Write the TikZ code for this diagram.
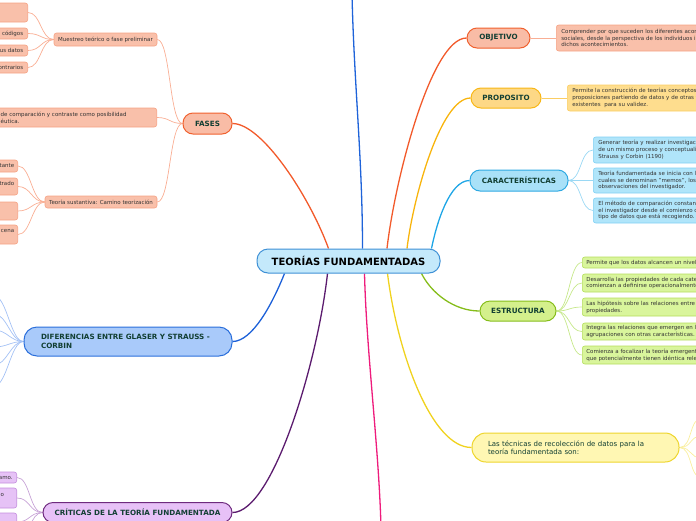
\documentclass[tikz,border=0pt]{standalone}
\usepackage{fontspec}
\setmainfont{DejaVu Sans}
\pgfdeclarelayer{background}
\pgfsetlayers{background,main}
\definecolor{tg}{HTML}{123F33}
\definecolor{kt}{HTML}{333333}
\definecolor{cenF}{HTML}{C4E9FB}
\definecolor{cenD}{HTML}{3F91D6}
\definecolor{faF}{HTML}{F9BCA6}
\definecolor{faD}{HTML}{F0612E}
\definecolor{faL}{HTML}{F25A2B}
\definecolor{faKF}{HTML}{F9C0AA}
\definecolor{faKD}{HTML}{F6A385}
\definecolor{faK}{HTML}{F9AE94}
\definecolor{prF}{HTML}{FDD886}
\definecolor{prD}{HTML}{F8B717}
\definecolor{prL}{HTML}{F8B40C}
\definecolor{prKF}{HTML}{FEDD8E}
\definecolor{prKD}{HTML}{FBCD62}
\definecolor{caF}{HTML}{A9E1F8}
\definecolor{caD}{HTML}{2FA9E2}
\definecolor{caL}{HTML}{1FA6E6}
\definecolor{caKF}{HTML}{B0E5FA}
\definecolor{caKD}{HTML}{80D0F4}
\definecolor{caK}{HTML}{9AD8F4}
\definecolor{esF}{HTML}{D4F08C}
\definecolor{esD}{HTML}{86BD1B}
\definecolor{esL}{HTML}{86BD1B}
\definecolor{esKF}{HTML}{D9F59C}
\definecolor{esKD}{HTML}{B5DE5C}
\definecolor{esK}{HTML}{C6E88A}
\definecolor{teF}{HTML}{FFF7B3}
\definecolor{teD}{HTML}{EED52C}
\definecolor{teL}{HTML}{F0D21E}
\definecolor{teK}{HTML}{F9EE9C}
\definecolor{diF}{HTML}{A9CAFA}
\definecolor{diD}{HTML}{2B6FDB}
\definecolor{diL}{HTML}{1C60D8}
\definecolor{diK}{HTML}{A3C1F5}
\definecolor{crF}{HTML}{E7C1F7}
\definecolor{crD}{HTML}{6E2A7E}
\definecolor{crL}{HTML}{5B1B6E}
\definecolor{crKF}{HTML}{E6C2F6}
\definecolor{crKD}{HTML}{C48EDE}
\definecolor{crK}{HTML}{C7A2D6}
\definecolor{pinkL}{HTML}{EE1C7C}
\definecolor{blueL}{HTML}{1E63D9}
\begin{document}
\begin{tikzpicture}[x=1pt,y=-1pt,
  every node/.style={inner sep=0pt},
  main/.style={draw, line width=1pt, font=\fontsize{7.2}{9}\selectfont\bfseries, text=tg, align=center},
  kid/.style={draw, line width=0.6pt, rounded corners=2.5pt, font=\fontsize{5.5}{6.8}\selectfont, text=kt},
  lkid/.style={kid, anchor=east, align=right},
  rkid/.style={kid, anchor=west, align=left, text width=200pt},
  link/.style={to path={.. controls +(-13,0) and +(13,0) .. (\tikztotarget)}},
  rlink/.style={to path={.. controls +(13,0) and +(-13,0) .. (\tikztotarget)}},
  mainline/.style={line width=1.3pt},
  kidline/.style={line width=0.7pt}
]
\useasboundingbox (0,0) rectangle (696,520);
\clip (0,0) rectangle (696,520);

% central
\node[draw=cenD, fill=cenF, line width=1pt, rounded corners=11pt, minimum width=183pt, minimum height=24pt, font=\fontsize{10}{12}\selectfont\bfseries] (c) at (348.5,261) {TEORÍAS FUNDAMENTADAS};

% main branches
\node[main, fill=faF, draw=faD, rounded corners=10pt, minimum width=49pt, minimum height=21pt] (fases) at (207.5,123.5) {FASES};
\node[main, fill=faF, draw=faD, rounded corners=10pt, minimum width=63pt, minimum height=20pt] (obj) at (498.5,38) {OBJETIVO};
\node[main, fill=prF, draw=prD, rounded corners=10pt, minimum width=70pt, minimum height=20pt] (prop) at (506,98) {PROPOSITO};
\node[main, fill=caF, draw=caD, rounded corners=10pt, minimum width=98pt, minimum height=21pt] (car) at (519,180.5) {CARACTERÍSTICAS};
\node[main, fill=esF, draw=esD, rounded corners=10pt, minimum width=76pt, minimum height=20pt] (est) at (518,311) {ESTRUCTURA};
\node[main, fill=teF, draw=teD, rounded corners=14pt, minimum height=29pt, text width=175pt, inner xsep=16pt, align=left, font=\fontsize{7}{8}\selectfont] (tec) at (575.5,447.5) {Las técnicas de recolección de datos para la\\teoría fundamentada son:};
\node[main, fill=diF, draw=diD, rounded corners=13pt, minimum height=29pt, text width=174pt, inner xsep=17pt, align=left] (dif) at (128,341.5) {DIFERENCIAS ENTRE GLASER Y STRAUSS -\\CORBIN};
\node[main, fill=crF, draw=crD, rounded corners=10pt, minimum width=189pt, minimum height=20pt] (cri) at (137.5,512.5) {CRÍTICAS DE LA TEORÍA FUNDAMENTADA};

% FASES children
\node[kid, fill=faKF, draw=faKD, minimum width=103pt, minimum height=13pt] (m1) at (105.5,39.5) {Muestreo teórico o fase preliminar};
\node[kid, fill=faKF, draw=faKD, anchor=east, align=left, minimum height=19pt, text width=152pt, inner xsep=4pt] (m2) at (157,117.5) {de comparación y contraste como posibilidad\\éutica.};
\node[kid, fill=faKF, draw=faKD, minimum width=112pt, minimum height=12pt] (m3) at (101,202) {Teoría sustantiva: Camino teorización};

\node[lkid, fill=faKF, draw=faKD, text width=50pt, inner xsep=4.5pt, minimum height=19pt] (a1) at (28,12.5) {};
\node[lkid, fill=faKF, draw=faKD, text width=50pt, inner xsep=4.5pt, minimum height=11pt] (a2) at (28,33.5) {e códigos};
\node[lkid, fill=faKF, draw=faKD, text width=50pt, inner xsep=4.5pt, minimum height=11pt] (a3) at (28,50.5) {us datos};
\node[lkid, fill=faKF, draw=faKD, text width=50pt, inner xsep=4.5pt, minimum height=11pt] (a4) at (28,67.5) {ontrarios};

\node[lkid, fill=faKF, draw=faKD, text width=40pt, inner xsep=3.5pt, minimum height=12pt] (b1) at (18,166) {tante};
\node[lkid, fill=faKF, draw=faKD, text width=40pt, inner xsep=3.5pt, minimum height=17pt] (b2) at (18,186.5) {trado\\\mbox{}};
\node[lkid, fill=faKF, draw=faKD, text width=40pt, inner xsep=3.5pt, minimum height=18pt] (b3) at (18,211) {};
\node[lkid, fill=faKF, draw=faKD, text width=40pt, inner xsep=3.5pt, minimum height=19pt] (b4) at (18,234.5) {cena\\\mbox{}};

% CRITICAS children
\node[lkid, fill=crKF, draw=crKD, text width=40pt, inner xsep=4pt, minimum height=11pt] (k1) at (17,477.5) {amo.};
\node[kid, anchor=east, align=left, fill=crKF, draw=crKD, text width=12pt, inner xsep=4pt, minimum height=20pt] (k2) at (17,498) {o\\\mbox{}};
\node[lkid, fill=crKF, draw=crKD, text width=40pt, inner xsep=4pt, minimum height=18pt] (k3) at (17,522) {};

% right children
\node[rkid, fill=faKF, draw=faKD, inner xsep=5pt, minimum height=26pt] (o1) at (556,38) {Comprender por que suceden los diferentes acon\\sociales, desde la perspectiva de los individuos i\\dichos acontecimientos.};
\node[rkid, fill=prKF, draw=prKD, inner xsep=5pt, minimum height=26pt] (p1) at (567,98) {Permite la construcción de teorías conceptos,\\proposiciones partiendo de datos y de otras t\\existentes\ \ para su validez.};
\node[rkid, fill=caKF, draw=caKD, inner xsep=5pt, minimum height=26pt] (c1) at (593,150) {Generar teoría y realizar investigació\\de un mismo proceso y conceptuali\\Strauss y Corbin (1190)};
\node[rkid, fill=caKF, draw=caKD, inner xsep=5pt, minimum height=25pt] (c2) at (593,180.5) {Teoría fundamentada se inicia con l\\cuales se denominan "memos", los\\observaciones del investigador.};
\node[rkid, fill=caKF, draw=caKD, inner xsep=5pt, minimum height=25pt] (c3) at (593,210.5) {El método de comparación constant\\el investigador desde el comienzo c\\tipo de datos que está recogiendo.};
\node[rkid, fill=esKF, draw=esKD, inner xsep=4pt, minimum height=11pt] (e1) at (582,262.5) {Permite que los datos alcancen un nivel};
\node[rkid, fill=esKF, draw=esKD, inner xsep=4pt, minimum height=18pt] (e2) at (582,283) {Desarrolla las propiedades de cada cate\\comienzan a definirse operacionalmente};
\node[rkid, fill=esKF, draw=esKD, inner xsep=4pt, minimum height=18pt] (e3) at (582,307) {Las hipótesis sobre las relaciones entre\\propiedades.};
\node[rkid, fill=esKF, draw=esKD, inner xsep=4pt, minimum height=17pt] (e4) at (582,331.5) {Integra las relaciones que emergen en l\\agrupaciones con otras características.};
\node[rkid, fill=esKF, draw=esKD, inner xsep=4pt, minimum height=18pt] (e5) at (582,355) {Comienza a focalizar la teoría emergent\\que potencialmente tienen idéntica rele};

% free ends
\coordinate (topend) at (352,-6);
\coordinate (botend) at (381,528);
\coordinate (d1) at (-6,296);
\coordinate (d2) at (-6,314);
\coordinate (d3) at (-6,330);
\coordinate (d4) at (-6,347);
\coordinate (d5) at (-6,365);
\coordinate (d6) at (-6,386);
\coordinate (t1) at (702,418);
\coordinate (t2) at (702,436);
\coordinate (t3) at (702,458);
\coordinate (t4) at (702,478);
\coordinate (k4) at (17,540);

\begin{pgfonlayer}{background}
% main connectors
\draw[faL, mainline] ([xshift=-20pt]c.north) .. controls +(-18,-50) and +(30,0) .. (fases.east);
\draw[blueL, mainline] ([xshift=14pt]c.north) .. controls +(0,-90) and +(2,90) .. (topend);
\draw[faL, mainline] ([xshift=38.5pt]c.north) .. controls +(8,-70) and +(-35,0) .. (obj.west);
\draw[prL, mainline] ([xshift=58.5pt]c.north) .. controls +(6,-50) and +(-30,0) .. (prop.west);
\draw[caL, mainline] ([xshift=83pt]c.north) .. controls +(5,-25) and +(-20,0) .. (car.west);
\draw[esL, mainline] ([xshift=73pt]c.south) .. controls +(10,20) and +(-25,0) .. (est.west);
\draw[teL, mainline] ([xshift=39pt]c.south) .. controls +(10,80) and +(-40,0) .. (tec.west);
\draw[pinkL, mainline] ([xshift=16pt]c.south) .. controls +(2,80) and +(-2,-80) .. (botend);
\draw[crL, mainline] ([xshift=-21pt]c.south) .. controls +(-10,90) and +(40,0) .. (cri.east);
\draw[diL, mainline] ([xshift=-64pt]c.south) .. controls +(-12,30) and +(20,0) .. (dif.east);

% child connectors
\foreach \k in {m1,m2,m3} \draw[faK, kidline] (fases.west) to[link] (\k.east);
\foreach \k in {a1,a2,a3,a4} \draw[faK, kidline] (m1.west) to[link] (\k.east);
\foreach \k in {b1,b2,b3,b4} \draw[faK, kidline] (m3.west) to[link] (\k.east);
\foreach \k in {k1,k2,k3,k4} \draw[crK, kidline] (cri.west) to[link] (\k.east);
\foreach \k in {d1,d2,d3,d4,d5,d6} \draw[diK, kidline] (dif.west) to[link] (\k);
\draw[faK, kidline] (obj.east) to[rlink] (o1.west);
\draw[prKD, kidline] (prop.east) to[rlink] (p1.west);
\foreach \k in {c1,c2,c3} \draw[caK, kidline] (car.east) to[rlink] (\k.west);
\foreach \k in {e1,e2,e3,e4,e5} \draw[esK, kidline] (est.east) to[rlink] (\k.west);
\foreach \k in {t1,t2,t3,t4} \draw[teK, kidline] (tec.east) to[rlink] (\k);
\end{pgfonlayer}
\end{tikzpicture}
\end{document}
